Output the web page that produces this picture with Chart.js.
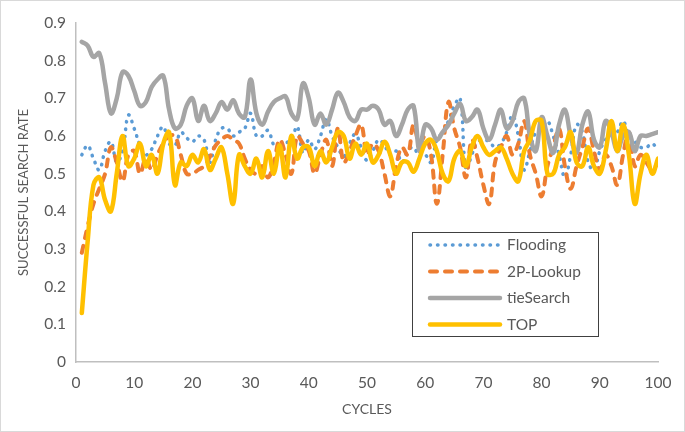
<!DOCTYPE html>
<html>
<head>
<meta charset="utf-8">
<script src="https://cdn.jsdelivr.net/npm/chart.js"></script>
<style>
  html, body { margin: 0; padding: 0; background: #fff; }
  #wrap { width: 685px; height: 432px; }
</style>
</head>
<body>
<div id="wrap"><canvas id="PlotCanvas" width="685" height="432"></canvas></div>
<script>
// cycles 1..100 on the x axis
var cycles = Array.from({ length: 100 }, (v, i) => i + 1);
var xTicks = [0, 10, 20, 30, 40, 50, 60, 70, 80, 90, 100];
var yTicks = [0, 0.1, 0.2, 0.3, 0.4, 0.5, 0.6, 0.7, 0.8, 0.9];
var seriesNames = ['Flooding', '2P-Lookup', 'tieSearch', 'TOP'];

var flooding = [
    0.55, 0.575, 0.54, 0.51, 0.56, 0.585, 0.53, 0.56, 0.655, 0.62,
    0.575, 0.55, 0.565, 0.60, 0.625, 0.58, 0.575, 0.61, 0.595, 0.585,
    0.60, 0.59, 0.53, 0.59, 0.62, 0.62, 0.60, 0.61, 0.62, 0.66,
    0.60, 0.60, 0.615, 0.575, 0.56, 0.58, 0.59, 0.625, 0.555, 0.59,
    0.565, 0.60, 0.645, 0.60, 0.57, 0.545, 0.58, 0.605, 0.57, 0.535,
    0.56, 0.59, 0.575, 0.55, 0.56, 0.53, 0.56, 0.57, 0.545, 0.55,
    0.53, 0.59, 0.61, 0.64, 0.68, 0.70, 0.51, 0.55, 0.585, 0.59,
    0.585, 0.57, 0.58, 0.61, 0.655, 0.60, 0.51, 0.56, 0.61, 0.62,
    0.64, 0.60, 0.55, 0.49, 0.55, 0.63, 0.61, 0.53, 0.51, 0.56,
    0.59, 0.60, 0.61, 0.64, 0.60, 0.585, 0.57, 0.57, 0.58, 0.56
];
var twoPLookup = [
    0.29, 0.36, 0.42, 0.46, 0.50, 0.57, 0.53, 0.48, 0.55, 0.56,
    0.50, 0.54, 0.51, 0.55, 0.58, 0.60, 0.60, 0.55, 0.50, 0.50,
    0.51, 0.52, 0.545, 0.575, 0.59, 0.60, 0.59, 0.58, 0.54, 0.51,
    0.50, 0.52, 0.49, 0.53, 0.59, 0.55, 0.50, 0.60, 0.58, 0.56,
    0.50, 0.55, 0.59, 0.52, 0.62, 0.53, 0.56, 0.60, 0.63, 0.55,
    0.58, 0.56, 0.50, 0.44, 0.52, 0.57, 0.55, 0.63, 0.58, 0.60,
    0.55, 0.42, 0.55, 0.69, 0.62, 0.57, 0.49, 0.59, 0.54, 0.47,
    0.42, 0.53, 0.57, 0.60, 0.55, 0.58, 0.64, 0.55, 0.50, 0.44,
    0.52, 0.57, 0.62, 0.52, 0.46, 0.52, 0.57, 0.62, 0.56, 0.51,
    0.55, 0.52, 0.47, 0.55, 0.61, 0.52, 0.55, 0.53, 0.51, 0.53
];
var tieSearch = [
    0.85, 0.84, 0.81, 0.82, 0.74, 0.66, 0.70, 0.77, 0.76, 0.72,
    0.68, 0.69, 0.73, 0.75, 0.76, 0.67, 0.62, 0.63, 0.68, 0.70,
    0.64, 0.68, 0.64, 0.66, 0.69, 0.67, 0.695, 0.66, 0.65, 0.75,
    0.66, 0.63, 0.665, 0.69, 0.70, 0.705, 0.66, 0.645, 0.74, 0.70,
    0.63, 0.66, 0.63, 0.67, 0.715, 0.69, 0.65, 0.64, 0.67, 0.67,
    0.68, 0.67, 0.63, 0.64, 0.60, 0.63, 0.67, 0.68, 0.56, 0.63,
    0.62, 0.59, 0.61, 0.63, 0.66, 0.685, 0.64, 0.65, 0.67, 0.62,
    0.59, 0.63, 0.67, 0.62, 0.64, 0.69, 0.70, 0.60, 0.56, 0.65,
    0.60, 0.555, 0.63, 0.67, 0.60, 0.555, 0.63, 0.665, 0.59, 0.57,
    0.64, 0.61, 0.56, 0.60, 0.61, 0.56, 0.60, 0.60, 0.605, 0.61
];
var top_ = [
    0.13, 0.32, 0.47, 0.49, 0.43, 0.40, 0.50, 0.60, 0.52, 0.54,
    0.58, 0.52, 0.55, 0.50, 0.58, 0.61, 0.47, 0.53, 0.52, 0.55,
    0.53, 0.565, 0.51, 0.54, 0.57, 0.50, 0.42, 0.55, 0.52, 0.50,
    0.54, 0.49, 0.56, 0.50, 0.575, 0.49, 0.60, 0.54, 0.57, 0.57,
    0.52, 0.56, 0.53, 0.57, 0.61, 0.60, 0.54, 0.58, 0.55, 0.58,
    0.53, 0.55, 0.585, 0.55, 0.50, 0.53, 0.53, 0.505, 0.54, 0.58,
    0.59, 0.56, 0.50, 0.48, 0.54, 0.56, 0.52, 0.57, 0.60, 0.57,
    0.55, 0.56, 0.57, 0.54, 0.50, 0.48, 0.56, 0.59, 0.64, 0.64,
    0.50, 0.50, 0.55, 0.57, 0.61, 0.53, 0.52, 0.57, 0.52, 0.50,
    0.56, 0.64, 0.56, 0.63, 0.55, 0.42, 0.50, 0.55, 0.50, 0.54
];

var textColor = '#595959';
var fontFamily = 'Lato, "Open Sans", sans-serif';

function toPoints(values) {
    return values.map((value, index) => ({ x: cycles[index], y: value }));
}

// legend box drawn inside the plot, like the Excel one
var boxLegend = {
    id: 'boxLegend',
    afterDraw: function (chart) {
        var ctx = chart.ctx;
        var bx = 412, by = 232, bw = 186, bh = 104;
        ctx.save();
        ctx.fillStyle = '#fff';
        ctx.fillRect(bx, by, bw, bh);
        ctx.strokeStyle = '#404040';
        ctx.lineWidth = 1;
        ctx.strokeRect(bx + 0.5, by + 0.5, bw, bh);
        chart.data.datasets.forEach(function (ds, row) {
            var y = by + 13 + row * 26.5;
            ctx.beginPath();
            ctx.strokeStyle = ds.borderColor;
            ctx.lineWidth = ds.borderWidth;
            ctx.lineCap = ds.borderCapStyle || 'butt';
            ctx.setLineDash(ds.borderDash || []);
            ctx.moveTo(430, y);
            ctx.lineTo(500, y);
            ctx.stroke();
            ctx.setLineDash([]);
            ctx.fillStyle = textColor;
            ctx.font = '15.5px ' + fontFamily;
            ctx.textBaseline = 'middle';
            ctx.textAlign = 'left';
            ctx.fillText(ds.label, 507, y);
        });
        // outer chart border
        ctx.strokeStyle = '#d9d9d9';
        ctx.lineWidth = 1;
        ctx.strokeRect(0.5, 0.5, chart.width - 1, chart.height - 1);
        ctx.restore();
    }
};

var ctx = document.getElementById('PlotCanvas').getContext('2d');
var data = {
    datasets: [{
        label: seriesNames[0],
        borderColor: '#5B9BD5',
        borderWidth: 3.5,
        borderDash: [0.5, 7],
        borderCapStyle: 'round',
        order: 4,
        data: toPoints(flooding)
    }, {
        label: seriesNames[1],
        borderColor: '#ED7D31',
        borderWidth: 4,
        borderDash: [7, 8],
        borderCapStyle: 'round',
        order: 3,
        data: toPoints(twoPLookup)
    }, {
        label: seriesNames[2],
        borderColor: '#A5A5A5',
        borderWidth: 4.5,
        borderCapStyle: 'round',
        order: 2,
        data: toPoints(tieSearch)
    }, {
        label: seriesNames[3],
        borderColor: '#FFC000',
        borderWidth: 4.5,
        borderCapStyle: 'round',
        order: 1,
        data: toPoints(top_)
    }]
};
var options = {
    responsive: false,
    animation: false,
    layout: { padding: { top: 23, right: 27, left: 0, bottom: 0 } },
    elements: { point: { radius: 0 }, line: { tension: 0.4, fill: false } },
    plugins: { legend: { display: false }, tooltip: { enabled: false } },
    scales: {
        x: {
            type: 'linear',
            position: 'bottom',
            min: 0,
            max: 100,
            afterFit: function (scale) { scale.height = 70; },
            afterBuildTicks: function (scale) { scale.ticks = xTicks.map(v => ({ value: v })); },
            grid: { display: false, drawTicks: false },
            border: { display: true, color: '#bfbfbf', width: 1.5 },
            ticks: { color: textColor, font: { family: fontFamily, size: 15.5 }, padding: 12, maxRotation: 0 },
            title: { display: true, text: 'CYCLES', color: textColor, font: { family: fontFamily, size: 14 }, padding: { top: 0, bottom: 14 } }
        },
        y: {
            type: 'linear',
            position: 'left',
            min: 0,
            max: 0.9,
            afterFit: function (scale) { scale.width = 76; },
            afterBuildTicks: function (scale) { scale.ticks = yTicks.map(v => ({ value: v })); },
            grid: { display: false, drawTicks: false },
            border: { display: true, color: '#bfbfbf', width: 1.5 },
            ticks: { color: textColor, font: { family: fontFamily, size: 15.5 }, padding: 10, callback: v => String(+v.toFixed(1)) },
            title: { display: true, text: 'SUCCESSFUL SEARCH RATE', color: textColor, font: { family: fontFamily, size: 13 }, padding: { top: 16, bottom: 0 } }
        }
    }
};
var currentChart = new Chart(ctx, {
    type: 'line',
    data: data,
    options: options,
    plugins: [boxLegend]
});
</script>
</body>
</html>
